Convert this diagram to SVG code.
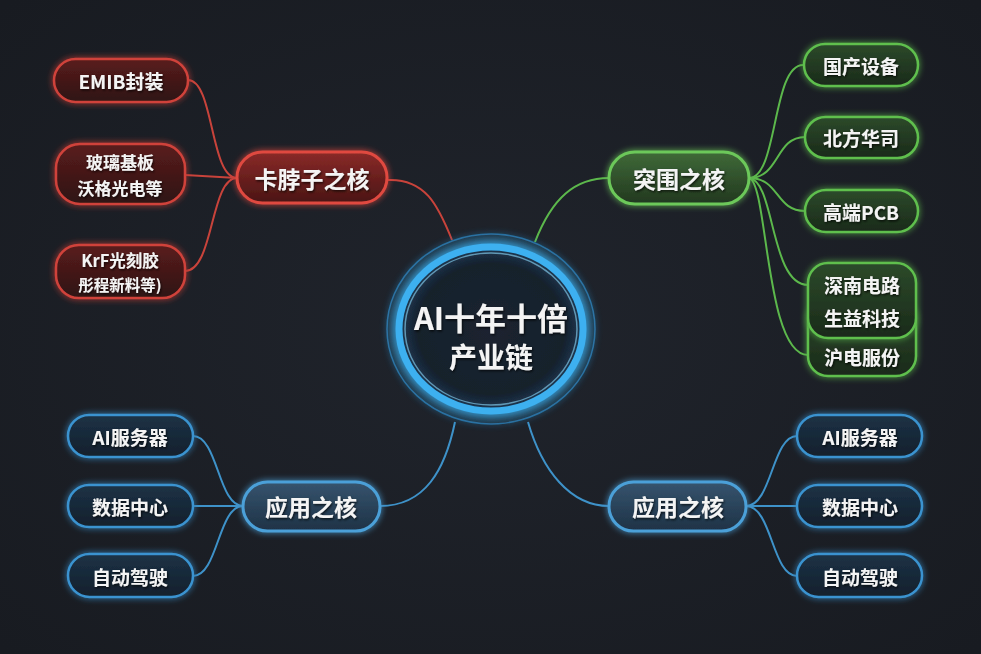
<svg xmlns="http://www.w3.org/2000/svg" width="981" height="654" viewBox="0 0 981 654">
<defs>
<radialGradient id="bg" cx="50%" cy="50%" r="70%">
<stop offset="0" stop-color="#20242c"/><stop offset="1" stop-color="#181b21"/>
</radialGradient>
<linearGradient id="gRed" x1="0" y1="0" x2="0" y2="1">
<stop offset="0" stop-color="#5a1c1c"/><stop offset="1" stop-color="#2e1414"/>
</linearGradient>
<linearGradient id="gRedCore" x1="0" y1="0" x2="0" y2="1">
<stop offset="0" stop-color="#8a2a28"/><stop offset="1" stop-color="#4a1515"/>
</linearGradient>
<linearGradient id="gGreen" x1="0" y1="0" x2="0" y2="1">
<stop offset="0" stop-color="#2c4a2a"/><stop offset="1" stop-color="#1a2a1a"/>
</linearGradient>
<linearGradient id="gGreenCore" x1="0" y1="0" x2="0" y2="1">
<stop offset="0" stop-color="#3f6a38"/><stop offset="1" stop-color="#22381f"/>
</linearGradient>
<linearGradient id="gBlue" x1="0" y1="0" x2="0" y2="1">
<stop offset="0" stop-color="#1c3246"/><stop offset="1" stop-color="#14202c"/>
</linearGradient>
<linearGradient id="gBlueCore" x1="0" y1="0" x2="0" y2="1">
<stop offset="0" stop-color="#36546e"/><stop offset="1" stop-color="#1e3246"/>
</linearGradient>
<radialGradient id="gCenter" cx="50%" cy="50%" r="50%">
<stop offset="0" stop-color="#1b2230"/><stop offset="0.8" stop-color="#17202c"/><stop offset="1" stop-color="#1d3a55"/>
</radialGradient>
<filter id="glow" x="-30%" y="-30%" width="160%" height="160%">
<feGaussianBlur in="SourceGraphic" stdDeviation="3" result="b"/>
<feMerge><feMergeNode in="b"/><feMergeNode in="SourceGraphic"/></feMerge>
</filter>
<filter id="bigglow" x="-40%" y="-40%" width="180%" height="180%">
<feGaussianBlur in="SourceGraphic" stdDeviation="6" result="b"/>
<feMerge><feMergeNode in="b"/><feMergeNode in="b"/><feMergeNode in="SourceGraphic"/></feMerge>
</filter>
<filter id="tshadow" x="-10%" y="-20%" width="120%" height="140%">
<feDropShadow dx="1" dy="1.5" stdDeviation="1" flood-color="#000" flood-opacity="0.7"/>
</filter>
</defs>
<style>
.t{font-family:"Noto Sans CJK SC","Noto Sans",sans-serif;font-weight:700;fill:#f4f4f4;text-anchor:middle;dominant-baseline:central;filter:url(#tshadow)}
.leaf{font-size:19px}
.core{font-size:23px}
.red rect{fill:url(#gRed);stroke:#d0433b;stroke-width:2.5}
.red.c rect{fill:url(#gRedCore);stroke:#e04a40;stroke-width:3}
.green rect{fill:url(#gGreen);stroke:#5fbf4e;stroke-width:2.5}
.green.c rect{fill:url(#gGreenCore);stroke:#6cc85a;stroke-width:3}
.blue rect{fill:url(#gBlue);stroke:#3a93d0;stroke-width:2.5}
.blue.c rect{fill:url(#gBlueCore);stroke:#4ba0d8;stroke-width:3}
.lr{fill:none;stroke:#c8433b;stroke-width:2}
.lg{fill:none;stroke:#5cb84c;stroke-width:2}
.lb{fill:none;stroke:#3e92c9;stroke-width:2}
</style>
<rect width="981" height="654" fill="url(#bg)"/>

<g id="connectors">
<path class="lr" d="M387,180 C425,178 438,205 452,240" stroke-width="5"/>
<path class="lr" d="M237,178 C210,178 214,80 188,80"/>
<path class="lr" d="M237,178 L185,175"/>
<path class="lr" d="M237,178 C210,178 214,271 185,271"/>
<path class="lg" d="M535,242 C552,198 575,178 609,178" stroke-width="5"/>
<path class="lg" d="M749,178 C778,178 772,65 803,65"/>
<path class="lg" d="M749,178 C780,178 775,137 805,137"/>
<path class="lg" d="M749,178 C780,178 775,211 805,211"/>
<path class="lg" d="M749,178 C775,180 770,285 808,285"/>
<path class="lg" d="M749,178 C768,182 765,355 808,355"/>
<path class="lb" d="M455,422 C445,470 425,506 380,506" stroke-width="4.5"/>
<path class="lb" d="M528,422 C542,470 570,506 609,506" stroke-width="4.5"/>
<path class="lb" d="M243,506 C218,506 218,436 193,436"/>
<path class="lb" d="M243,506 L193,506"/>
<path class="lb" d="M243,506 C218,506 218,576 193,576"/>
<path class="lb" d="M746,506 C772,506 772,436 797,436"/>
<path class="lb" d="M746,506 L797,506"/>
<path class="lb" d="M746,506 C772,506 772,576 797,576"/>
</g>

<g id="center">
<ellipse cx="491" cy="329" rx="104" ry="95" fill="none" stroke="#2f7fb8" stroke-width="1.5" opacity="0.8" filter="url(#glow)"/>
<ellipse cx="491" cy="329" rx="92" ry="82" fill="url(#gCenter)" stroke="#3cb0f0" stroke-width="7" filter="url(#bigglow)"/>
<ellipse cx="491" cy="329" rx="86" ry="76" fill="none" stroke="#8fdcff" stroke-width="1.5" opacity="0.6"/>
<text class="t" x="491" y="316" font-size="31">AI十年十倍</text>
<text class="t" x="491" y="356" font-size="28">产业链</text>
</g>

<g id="n-kabozi" class="red c"><rect x="237" y="152" width="150" height="51" rx="25.5" filter="url(#glow)"/><text class="t core" x="312" y="178">卡脖子之核</text></g>
<g id="n-emib" class="red"><rect x="54" y="59" width="134" height="43" rx="21.5" filter="url(#glow)"/><text class="t leaf" x="121" y="80">EMIB封装</text></g>
<g id="n-glass" class="red"><rect x="56" y="144" width="129" height="60" rx="24" filter="url(#glow)"/><text class="t" x="120" y="161" font-size="17">玻璃基板</text><text class="t" x="120" y="187" font-size="17">沃格光电等</text></g>
<g id="n-krf" class="red"><rect x="56" y="245" width="129" height="53" rx="23" filter="url(#glow)"/><text class="t" x="120" y="260" font-size="16.5">KrF光刻胶</text><text class="t" x="120" y="284" font-size="15.5">彤程新料等)</text></g>

<g id="n-tuwei" class="green c"><rect x="609" y="152" width="140" height="52" rx="26" filter="url(#glow)"/><text class="t core" x="679" y="178">突围之核</text></g>
<g id="n-guochan" class="green"><rect x="804" y="44" width="114" height="42" rx="21" filter="url(#glow)"/><text class="t leaf" x="861" y="65">国产设备</text></g>
<g id="n-beifang" class="green"><rect x="805" y="117" width="113" height="41" rx="20.5" filter="url(#glow)"/><text class="t leaf" x="861" y="137">北方华司</text></g>
<g id="n-pcb" class="green"><rect x="805" y="190" width="113" height="42" rx="21" filter="url(#glow)"/><text class="t leaf" x="861" y="211">高端PCB</text></g>
<g id="n-hudian" class="green"><rect x="808" y="300" width="108" height="76" rx="20" filter="url(#glow)"/><text class="t leaf" x="862" y="356">沪电服份</text></g>
<g id="n-shennan" class="green"><rect x="808" y="263" width="108" height="75" rx="20" filter="url(#glow)"/><text class="t leaf" x="862" y="284">深南电路</text><text class="t leaf" x="862" y="317">生益科技</text></g>

<g id="n-yingyong-l" class="blue c"><rect x="243" y="482" width="137" height="49" rx="24.5" filter="url(#glow)"/><text class="t core" x="311" y="506">应用之核</text></g>
<g id="n-server-l" class="blue"><rect x="68" y="415" width="125" height="42" rx="21" filter="url(#glow)"/><text class="t leaf" x="130" y="436">AI服务器</text></g>
<g id="n-dc-l" class="blue"><rect x="68" y="485" width="125" height="42" rx="21" filter="url(#glow)"/><text class="t leaf" x="130" y="506">数据中心</text></g>
<g id="n-auto-l" class="blue"><rect x="68" y="554" width="125" height="43" rx="21.5" filter="url(#glow)"/><text class="t leaf" x="130" y="576">自动驾驶</text></g>

<g id="n-yingyong-r" class="blue c"><rect x="609" y="482" width="137" height="49" rx="24.5" filter="url(#glow)"/><text class="t core" x="678" y="506">应用之核</text></g>
<g id="n-server-r" class="blue"><rect x="797" y="415" width="125" height="42" rx="21" filter="url(#glow)"/><text class="t leaf" x="860" y="436">AI服务器</text></g>
<g id="n-dc-r" class="blue"><rect x="797" y="485" width="125" height="42" rx="21" filter="url(#glow)"/><text class="t leaf" x="860" y="506">数据中心</text></g>
<g id="n-auto-r" class="blue"><rect x="797" y="554" width="125" height="43" rx="21.5" filter="url(#glow)"/><text class="t leaf" x="860" y="576">自动驾驶</text></g>
</svg>
